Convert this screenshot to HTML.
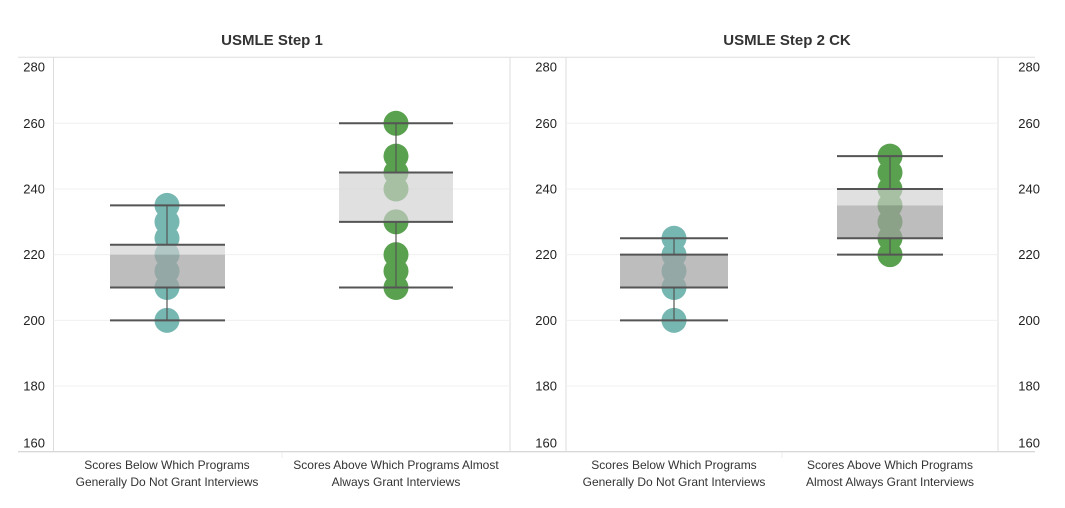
<!DOCTYPE html>
<html><head><meta charset="utf-8"><style>
html,body{margin:0;padding:0;background:#fff;width:1065px;height:508px;overflow:hidden}
svg{display:block;font-family:"Liberation Sans",sans-serif}
</style></head><body>
<svg id="c" width="1065" height="508" viewBox="0 0 1065 508"></svg>
<script>
const panelTitles = ["USMLE Step 1", "USMLE Step 2 CK"];
const categoryLines = [["Scores Below Which Programs","Generally Do Not Grant Interviews"],["Scores Above Which Programs Almost","Always Grant Interviews"],["Scores Below Which Programs","Generally Do Not Grant Interviews"],["Scores Above Which Programs","Almost Always Grant Interviews"]];
const yTicks = [160,180,200,220,240,260,280];
const step1Below = [200,210,215,220,225,230,235];
const step1Above = [210,215,220,230,240,245,250,260];
const step2Below = [200,210,215,220,225];
const step2Above = [220,225,230,235,240,245,250];
// [whiskerLow, q1, median, q3, whiskerHigh]
const step1BelowBox = [200,210,220,223,235];
const step1AboveBox = [210,230,230,245,260];
const step2BelowBox = [200,210,220,220,225];
const step2AboveBox = [220,225,235,240,250];

const NS="http://www.w3.org/2000/svg";
const svg=document.getElementById('c');
function mk(t,a,p){const e=document.createElementNS(NS,t);for(const k in a)e.setAttribute(k,a[k]);(p||svg).appendChild(e);return e;}
const Y0=451.7,K=3.284;
function y(v){return Y0-(v-160)*K;}

// frame
const frame=mk('g',{});


mk('line',{x1:18,x2:1035,y1:57.3,y2:57.3,stroke:'#ddd','stroke-width':1},frame);
mk('line',{x1:18,x2:1035,y1:451.7,y2:451.7,stroke:'#ccc','stroke-width':1},frame);
[53.5,510,566,998].forEach(x=>mk('line',{x1:x,x2:x,y1:57.3,y2:451.7,stroke:'#ddd','stroke-width':1},frame));
[282,782].forEach(x=>mk('line',{x1:x,x2:x,y1:452,y2:458,stroke:'#eee','stroke-width':1},frame));

const panels=[{l:53.5,r:510,axisX:45,anchor:'end',title:272,cats:[[167,110,225,step1Below,step1BelowBox,'#76b7b2'],[396,339,453,step1Above,step1AboveBox,'#59a14f']]},
{l:566,r:998,axisX:557,anchor:'end',title:787,cats:[[674,620,728,step2Below,step2BelowBox,'#76b7b2'],[890,837,943,step2Above,step2AboveBox,'#59a14f']]}];

panels.forEach((p,pi)=>{
  const g=mk('g',{});
  
  
  const t=mk('text',{x:p.title,y:45,'text-anchor':'middle','font-size':15,'font-weight':'bold',fill:'#333'},g);
  t.textContent=panelTitles[pi];
  
  
  yTicks.forEach(v=>{
    if(v>160&&v<280){const gl=mk('line',{x1:p.l,x2:p.r,y1:y(v),y2:y(v),stroke:'#f0f0f0','stroke-width':1},g);
    
    }
    let ty=y(v)+4.5; if(v===280)ty=y(v)+14; if(v===160)ty=y(v)-4;
    const lab=mk('text',{x:p.axisX,y:ty,'text-anchor':p.anchor,'font-size':13,fill:'#222'},g);
    lab.textContent=v;
    
    
    if(pi===1){const r=mk('text',{x:1040,y:ty,'text-anchor':'end','font-size':13,fill:'#222'},g);
      r.textContent=v;
      
      }
  });
  p.cats.forEach((c,ci)=>{
    const [cx,x1,x2,pts,bx,col]=c;
    const cg=mk('g',{},g);
    
    
    pts.forEach(v=>{const d=mk('circle',{cx:cx,cy:y(v),r:12.5,fill:col},cg);
      
      });
    const lo=mk('rect',{x:x1,y:y(bx[2]),width:x2-x1,height:y(bx[1])-y(bx[2]),fill:'#a1a1a1','fill-opacity':0.7},cg);
    
    
    const hi=mk('rect',{x:x1,y:y(bx[3]),width:x2-x1,height:y(bx[2])-y(bx[3]),fill:'#d0d0d0','fill-opacity':0.66},cg);
    
    
    mk('line',{x1:cx,x2:cx,y1:y(bx[4]),y2:y(bx[3]),stroke:'#555','stroke-width':1.2},cg);
    mk('line',{x1:cx,x2:cx,y1:y(bx[1]),y2:y(bx[0]),stroke:'#555','stroke-width':1.2},cg);
    [0,1,3,4].forEach(i=>{const w=mk('line',{x1:x1,x2:x2,y1:y(bx[i]),y2:y(bx[i]),stroke:'#555','stroke-width':2},cg);
      
      });
    const lines=categoryLines[pi*2+ci];
    lines.forEach((s,li)=>{const tx=mk('text',{x:cx,y:469+li*17,'text-anchor':'middle','font-size':12,fill:'#333'},g);
      tx.textContent=s;
      
      });
  });
});
</script>
</body></html>
